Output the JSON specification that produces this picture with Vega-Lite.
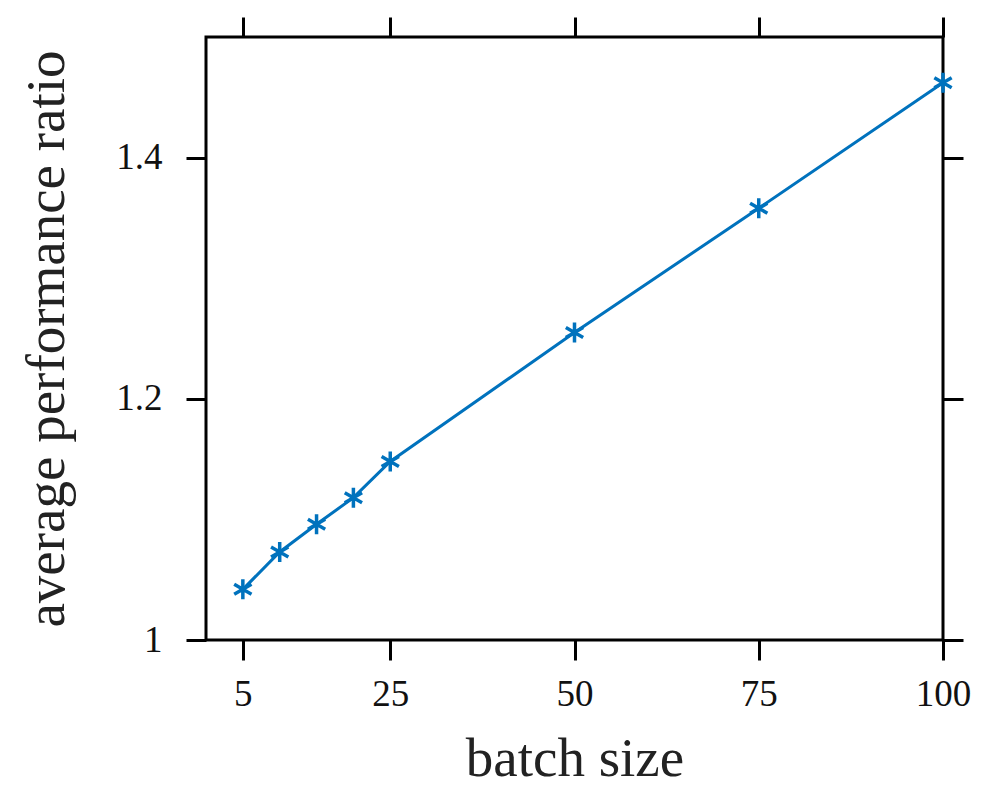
{
  "$schema": "https://vega.github.io/schema/vega-lite/v6.json",
  "width": 737,
  "height": 603,
  "autosize": "none",
  "padding": {"left": 206, "top": 37, "right": 57, "bottom": 146},
  "background": "white",
  "config": {
    "view": {"stroke": "black", "strokeWidth": 3},
    "font": "Liberation Serif",
    "axis": {
      "domain": false,
      "grid": false,
      "ticks": true,
      "tickColor": "black",
      "tickWidth": 3,
      "tickSize": 20,
      "labelFont": "Liberation Serif",
      "labelFontSize": 37,
      "labelColor": "#111",
      "titleFont": "Liberation Serif",
      "titleFontSize": 55,
      "titleFontWeight": "normal",
      "titleColor": "#222"
    }
  },
  "data": {
    "values": [
      {"batch": 5, "ratio": 1.042},
      {"batch": 10, "ratio": 1.073},
      {"batch": 15, "ratio": 1.096},
      {"batch": 20, "ratio": 1.118},
      {"batch": 25, "ratio": 1.148},
      {"batch": 50, "ratio": 1.255},
      {"batch": 75, "ratio": 1.358},
      {"batch": 100, "ratio": 1.462}
    ]
  },
  "layer": [
    {
      "mark": {"type": "line", "color": "#0072BD", "strokeWidth": 3, "clip": false},
      "encoding": {
        "x": {
          "field": "batch", "type": "quantitative",
          "scale": {"domain": [0, 100], "nice": false, "zero": false},
          "axis": {"orient": "bottom", "values": [5, 25, 50, 75, 100], "title": "batch size", "labelPadding": 16, "titlePadding": 20, "labelFlush": false}
        },
        "y": {
          "field": "ratio", "type": "quantitative",
          "scale": {"domain": [1, 1.5], "nice": false, "zero": false},
          "axis": {"orient": "left", "values": [1, 1.2, 1.4], "title": "average performance ratio", "labelPadding": 24, "titlePadding": 40, "labelFlush": false,
            "labelExpr": "datum.value == 1 ? '1' : format(datum.value, '.1f')"}
        }
      }
    },
    {
      "mark": {"type": "point", "shape": "M0,-1L0,1M-0.866,-0.5L0.866,0.5M-0.866,0.5L0.866,-0.5", "filled": false, "color": "#0072BD", "strokeWidth": 3.5, "size": 400, "opacity": 1, "clip": false},
      "encoding": {
        "x": {
          "field": "batch", "type": "quantitative",
          "axis": {"orient": "top", "values": [5, 25, 50, 75, 100], "labels": false, "title": null}
        },
        "y": {
          "field": "ratio", "type": "quantitative",
          "axis": {"orient": "right", "values": [1, 1.2, 1.4], "labels": false, "title": null}
        }
      }
    }
  ],
  "resolve": {"axis": {"x": "independent", "y": "independent"}}
}
